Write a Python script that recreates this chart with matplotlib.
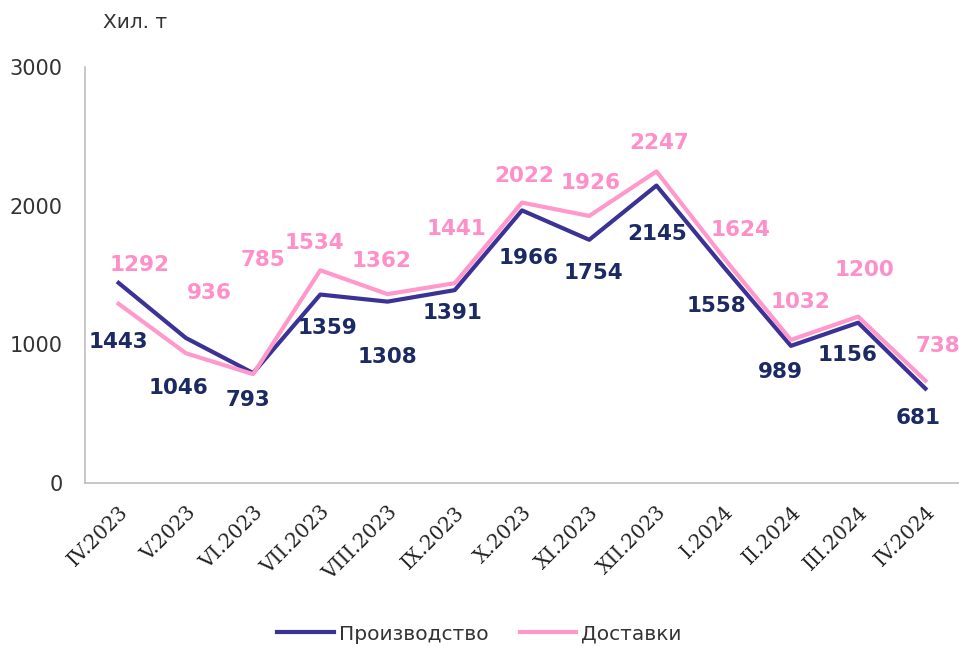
import numpy as np
import matplotlib.pyplot as plt

months = ['IV.2023', 'V.2023', 'VI.2023', 'VII.2023', 'VIII.2023', 'IX.2023',
          'X.2023', 'XI.2023', 'XII.2023', 'I.2024', 'II.2024', 'III.2024', 'IV.2024']
production = [1443, 1046, 793, 1359, 1308, 1391, 1966, 1754, 2145, 1558, 989, 1156, 681]
deliveries = [1292, 936, 785, 1534, 1362, 1441, 2022, 1926, 2247, 1624, 1032, 1200, 738]

# label offsets in pixels (dx, dy)
prod_off = [(0, -59), (-7, -50), (-5, -27), (7, -33), (0, -55), (-2, -23),
            (7, -48), (4, -33), (1, -48), (-7, -39), (-11, -26), (-11, -32), (-7, -29)]
del_off = [(21, 39), (23, 60), (10, 114), (-6, 27), (-6, 33), (2, 54),
           (2, 27), (1, 33), (3, 28), (17, 28), (10, 38), (6, 47), (13, 35)]

c_prod = '#3B3296'
c_prod_txt = '#1B2A63'
c_del = '#FF99CC'
c_del_txt = '#FF8FC8'

fig = plt.figure(figsize=(9.59, 6.47), dpi=100)
ax = fig.add_axes([85/959, 1-483/647, 874/959, (483-67)/647])

x = np.arange(len(months))
ax.plot(x, production, color=c_prod, lw=3, label='Производство')
ax.plot(x, deliveries, color=c_del, lw=3, label='Доставки')

for i in range(len(x)):
    ax.annotate(str(production[i]), (x[i], production[i]), xytext=prod_off[i],
                textcoords='offset pixels', ha='center', va='center',
                fontsize=15.5, fontweight='bold', color=c_prod_txt)
    ax.annotate(str(deliveries[i]), (x[i], deliveries[i]), xytext=del_off[i],
                textcoords='offset pixels', ha='center', va='center',
                fontsize=15.5, fontweight='bold', color=c_del_txt)

ax.set_xlim(-0.5, 12.5)
ax.set_ylim(0, 3000)
ax.set_yticks([0, 1000, 2000, 3000])
ax.tick_params(axis='y', length=0, labelsize=15, colors='#333333', pad=16)
ax.set_xticks(x)
ax.set_xticklabels(months, rotation=45, ha='right', rotation_mode='anchor',
                   family='DejaVu Serif', fontsize=14.5, color='#222222')
ax.tick_params(axis='x', length=0, pad=14)
for s in ['top', 'right']:
    ax.spines[s].set_visible(False)
ax.spines['left'].set_color('#BFBFBF')
ax.spines['bottom'].set_color('#BFBFBF')
ax.spines['left'].set_linewidth(1.2)
ax.spines['bottom'].set_linewidth(1.2)

fig.text(135/959, 1-22/647, 'Хил. т', fontsize=14.5, color='#333333', ha='center', va='center')

fig.legend(loc='center', bbox_to_anchor=(0.5, 1-634/647), ncol=2, frameon=False,
           fontsize=14.5, handlelength=2.8, columnspacing=1.55, handletextpad=0.26,
           labelcolor='#333333')

fig.savefig('out.png', dpi=100)
